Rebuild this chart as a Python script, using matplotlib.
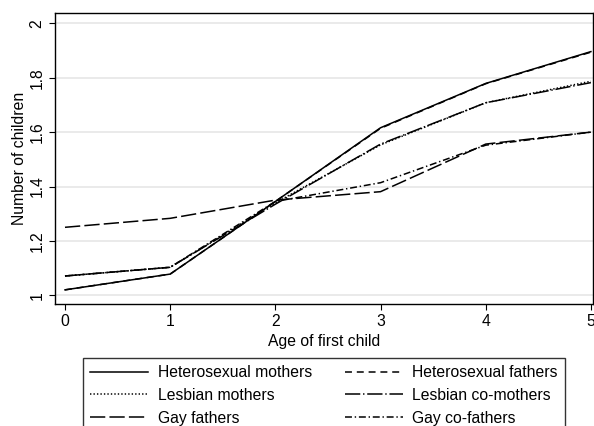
import matplotlib
matplotlib.use("Agg")
import matplotlib.pyplot as plt

plt.rcParams['font.family'] = ['Liberation Sans', 'DejaVu Sans']
plt.rcParams['lines.scale_dashes'] = False

# data
age = [0, 1, 2, 3, 4, 5]
het_mothers = [1.02, 1.078, 1.345, 1.616, 1.779, 1.896]
het_fathers = [1.02, 1.078, 1.345, 1.614, 1.778, 1.894]
lesb_mothers = [1.071, 1.103, 1.34, 1.553, 1.708, 1.787]
lesb_comothers = [1.071, 1.103, 1.335, 1.556, 1.708, 1.782]
gay_fathers = [1.25, 1.283, 1.35, 1.381, 1.556, 1.60]
gay_cofathers = [1.071, 1.103, 1.345, 1.414, 1.552, 1.60]

labels = ['Heterosexual mothers', 'Heterosexual fathers', 'Lesbian mothers',
          'Lesbian co-mothers', 'Gay fathers', 'Gay co-fathers']
series = [het_mothers, het_fathers, lesb_mothers, lesb_comothers, gay_fathers, gay_cofathers]
styles = ['-', (0, (5, 3.5)), (0, (1, 1.5)), (0, (11, 2, 1, 2)), (0, (11, 3)), (0, (5, 2, 1, 2))]

fs = 11.3

fig = plt.figure(figsize=(5.94, 4.26), dpi=100)
ax = fig.add_axes([55/594, 122/426, 538/594, 291/426])

for y, ls, lab in zip(series, styles, labels):
    ax.plot(age, y, color='black', linestyle=ls, linewidth=1.1, label=lab)

ax.set_xlim(-0.095, 5.02)
ax.set_ylim(0.968, 2.038)
ax.set_xticks(age)
ax.set_yticks([1, 1.2, 1.4, 1.6, 1.8, 2])
ax.set_yticklabels(['1', '1.2', '1.4', '1.6', '1.8', '2'], rotation=90, va='center')
ax.tick_params(labelsize=fs, length=4, color='black')
ax.grid(axis='y', color='#e6e6e6', linewidth=1.2)
ax.set_axisbelow(True)
for s in ax.spines.values():
    s.set_linewidth(1.0)

ax.set_xlabel('Age of first child', fontsize=fs, labelpad=3)
ax.set_ylabel('Number of children', fontsize=fs, labelpad=2)

# legend in two columns below the axes
handles, labs = ax.get_legend_handles_labels()
order = [0, 2, 4, 1, 3, 5]
leg = fig.legend([handles[i] for i in order], [labs[i] for i in order],
                 loc='upper left', bbox_to_anchor=(83/594, 1 - 358/426),
                 borderaxespad=0, ncol=2, fontsize=fs, frameon=True, fancybox=False,
                 handlelength=3.7, handletextpad=0.6, columnspacing=2.1,
                 labelspacing=0.5, borderpad=0.45)
leg.get_frame().set_edgecolor('black')
leg.get_frame().set_linewidth(1.0)

fig.savefig('out.png', dpi=100)
